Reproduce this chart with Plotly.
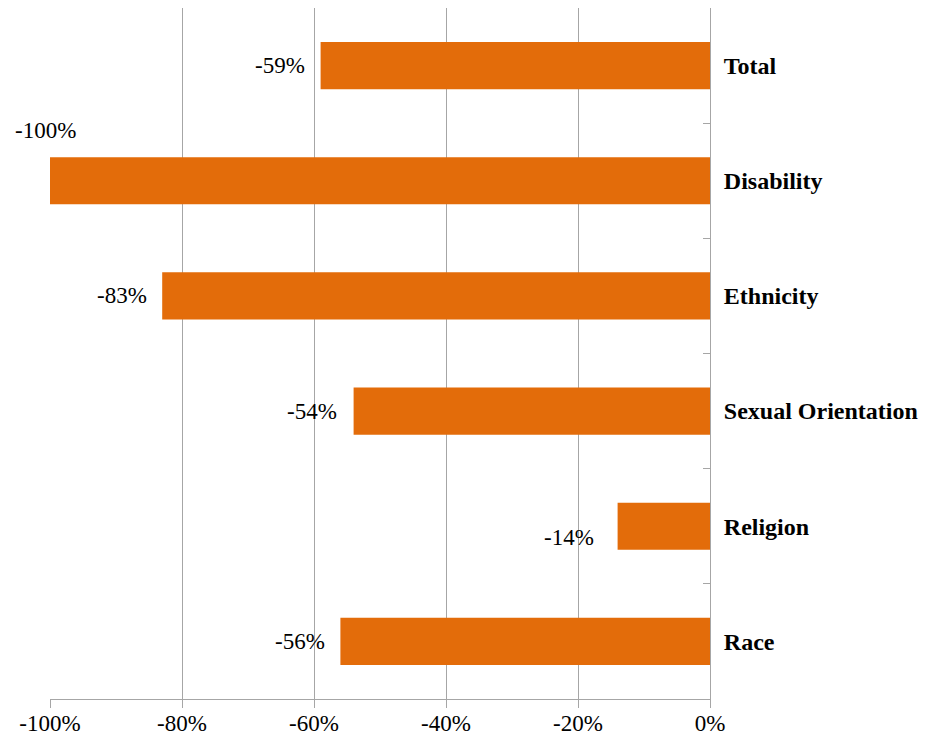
import plotly.graph_objects as go

categories = ["Total", "Disability", "Ethnicity", "Sexual Orientation", "Religion", "Race"]
values = [-59, -100, -83, -54, -14, -56]
labels = ["-59%", "-100%", "-83%", "-54%", "-14%", "-56%"]
x_ticks = [-100, -80, -60, -40, -20, 0]
x_tick_text = ["-100%", "-80%", "-60%", "-40%", "-20%", "0%"]

ORANGE = "#E36C0A"
GRID = "#A6A6A6"
FONT = "Liberation Serif"

fig = go.Figure()
fig.add_trace(go.Bar(
    x=values, y=categories, orientation="h",
    marker=dict(color=ORANGE, line=dict(width=0)),
    hoverinfo="skip",
))

# label offsets (pixels) per bar, mimicking manual placement
offsets = {
    "Total": (-14, 0, "right"),
    "Disability": (-5, 50, "center"),
    "Ethnicity": (-13, 0, "right"),
    "Sexual Orientation": (-15, 0, "right"),
    "Religion": (-22, -11, "right"),
    "Race": (-13, 0, "right"),
}
for cat, v, t in zip(categories, values, labels):
    dx, dy, anchor = offsets[cat]
    fig.add_annotation(
        x=v, y=cat, xref="x", yref="y", text=t, showarrow=False,
        xanchor=anchor, yanchor="middle", xshift=dx, yshift=dy,
        font=dict(family=FONT, size=23, color="#000000"),
    )

fig.update_layout(
    width=930, height=734,
    margin=dict(l=42, r=228, t=0, b=43),
    plot_bgcolor="white", paper_bgcolor="white",
    bargap=0.59, showlegend=False,
    xaxis=dict(
        range=[-100, 0], tickvals=x_ticks, ticktext=x_tick_text,
        showgrid=True, gridcolor=GRID, gridwidth=1,
        zeroline=False, showline=True, linecolor=GRID, linewidth=1,
        ticks="outside", ticklen=8, tickcolor=GRID,
        ticklabelstandoff=-5,
        tickfont=dict(family=FONT, size=23, color="#000000"),
    ),
    yaxis=dict(
        categoryorder="array", categoryarray=categories[::-1],
        side="right", showgrid=False, zeroline=False,
        showline=True, linecolor=GRID, linewidth=1,
        ticks="inside", ticklen=7, tickcolor=GRID, tickson="boundaries",
        ticklabelstandoff=8,
        tickfont=dict(family=FONT, size=24, color="#000000", weight="bold"),
    ),
)

fig.write_html("out.html")
